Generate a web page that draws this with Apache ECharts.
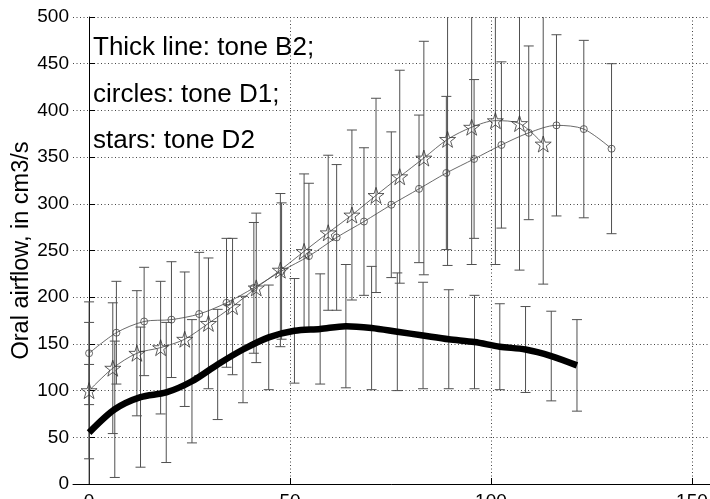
<!DOCTYPE html>
<html>
<head>
<meta charset="utf-8">
<script src="https://cdn.jsdelivr.net/npm/echarts@6/dist/echarts.min.js"></script>
<style>html,body{margin:0;padding:0;background:#fff}#c{width:710px;height:499px}</style>
</head>
<body>
<div id="c"></div>
<script>
// x positions
const thickX  = [0, 6.4, 12.8, 19.2, 25.6, 32, 38.3, 44.7, 51.1, 57.5, 63.9, 70.3, 76.7, 83.1, 89.5, 95.9, 102.2, 108.6, 115, 121.4];
const thickY  = [55, 80, 93, 98, 110, 128, 144, 157, 164, 166, 169, 167, 163, 159, 155, 152, 147, 144, 137, 127];
const thickErr = [73, 73, 75, 75, 66, 59, 57, 56, 56, 59, 66, 66, 63, 57, 53, 50, 46, 46, 48, 49];

const circleX = [0, 6.8, 13.7, 20.5, 27.4, 34.2, 41, 47.9, 54.7, 61.6, 68.4, 75.2, 82.1, 88.9, 95.8, 102.6, 109.4, 116.3, 123.1, 130];
const circleY = [140, 162, 174, 176, 182, 194, 210, 228, 244, 264, 281, 299, 316, 333, 348, 363, 376, 384, 380, 359];
const circleErr = [55, 55, 58, 62, 66, 69, 70, 73, 78, 78, 79, 78, 79, 82, 85, 89, 93, 97, 95, 91];

const starX = [0, 5.9, 11.9, 17.8, 23.8, 29.7, 35.7, 41.6, 47.6, 53.5, 59.5, 65.4, 71.4, 77.3, 83.3, 89.2, 95.2, 101.1, 107.1, 113];
const starY = [100, 124, 140, 146, 155, 172, 190, 210, 229, 249, 269, 288, 309, 329, 349, 369, 382, 389, 386, 364];
const starErr = [73, 70, 67, 71, 72, 70, 73, 80, 82, 83, 83, 91, 104, 114, 125, 135, 147, 154, 157, 150];

const xTicks = [0, 50, 100, 150];
const annotationLines = ['Thick line: tone B2;', 'circles: tone D1;', 'stars: tone D2'];
const yAxisTitle = 'Oral airflow, in cm3/s';

const pairs = (xs, ys) => xs.map((x, i) => [x, ys[i]]);
const errData = (xs, ys, es) => xs.map((x, i) => [x, ys[i] - es[i], ys[i] + es[i]]);

const STAR = 'path://M50,2 L61.8,37.6 L99,37.6 L68.9,59.6 L80.4,95 L50,73 L19.6,95 L31.1,59.6 L1,37.6 L38.2,37.6 Z';

function errRender(params, api) {
  const x = api.value(0), lo = api.value(1), hi = api.value(2);
  const a = api.coord([x, lo]), b = api.coord([x, hi]);
  const hw = 5;
  const style = { stroke: '#505050', lineWidth: 1, fill: null };
  return {
    type: 'group',
    children: [
      { type: 'line', shape: { x1: a[0], y1: a[1], x2: b[0], y2: b[1] }, style },
      { type: 'line', shape: { x1: a[0] - hw, y1: a[1], x2: a[0] + hw, y2: a[1] }, style },
      { type: 'line', shape: { x1: b[0] - hw, y1: b[1], x2: b[0] + hw, y2: b[1] }, style }
    ]
  };
}

const chart = echarts.init(document.getElementById('c'), null, { renderer: 'canvas' });
const font = 'Liberation Sans';
const gridLine = { show: true, lineStyle: { color: '#444', width: 1, type: [1, 2.5] } };

chart.setOption({
  animation: false,
  backgroundColor: '#fff',
  textStyle: { fontFamily: font },
  title: {
    text: annotationLines.join('\n'),
    left: 88, top: 20,
    textStyle: { fontFamily: font, fontSize: 26, fontWeight: 'normal', color: '#000', lineHeight: 46.5 }
  },
  grid: { left: 73, right: 0, top: 17, bottom: 15, containLabel: false, outerBoundsMode: 'none' },
  xAxis: {
    type: 'value', min: -4, max: 154.5,
    axisLine: { show: true, lineStyle: { color: '#000', width: 1 } },
    axisTick: { show: true, inside: true, length: 6, customValues: xTicks, lineStyle: { color: '#000' } },
    axisLabel: { customValues: xTicks, fontSize: 19, color: '#000', margin: 8, fontFamily: font },
    splitLine: gridLine
  },
  yAxis: {
    type: 'value', min: 0, max: 500, interval: 50,
    name: yAxisTitle, nameLocation: 'middle', nameGap: 39.5, nameMoveOverlap: false,
    nameTextStyle: { fontSize: 23.5, color: '#000', fontFamily: font },
    axisLine: { show: true, lineStyle: { color: '#000', width: 1 } },
    axisTick: { show: true, inside: true, length: 6, lineStyle: { color: '#000' } },
    axisLabel: { fontSize: 19, color: '#000', margin: 4, fontFamily: font },
    splitLine: gridLine
  },
  series: [
    { type: 'custom', name: 'errStar', renderItem: errRender, data: errData(starX, starY, starErr), clip: true, z: 2 },
    { type: 'custom', name: 'errCircle', renderItem: errRender, data: errData(circleX, circleY, circleErr), clip: true, z: 2 },
    { type: 'custom', name: 'errThick', renderItem: errRender, data: errData(thickX, thickY, thickErr), clip: true, z: 2 },
    {
      type: 'line', name: 'circles', data: pairs(circleX, circleY), smooth: 0.3,
      symbol: 'circle', symbolSize: 7, showSymbol: true,
      lineStyle: { color: '#444', width: 0.8 },
      itemStyle: { color: 'rgba(255,255,255,0)', borderColor: '#444', borderWidth: 0.8 },
      z: 3
    },
    {
      type: 'line', name: 'stars', data: pairs(starX, starY), smooth: 0.3,
      symbol: STAR, symbolSize: 16, showSymbol: true,
      lineStyle: { color: '#444', width: 0.8 },
      itemStyle: { color: 'rgba(255,255,255,0)', borderColor: '#333', borderWidth: 0.8 },
      z: 3
    },
    {
      type: 'line', name: 'thick', data: pairs(thickX, thickY), smooth: 0.3,
      showSymbol: false, symbol: 'none',
      lineStyle: { color: '#000', width: 6.5 },
      z: 4
    }
  ]
});
</script>
</body>
</html>
